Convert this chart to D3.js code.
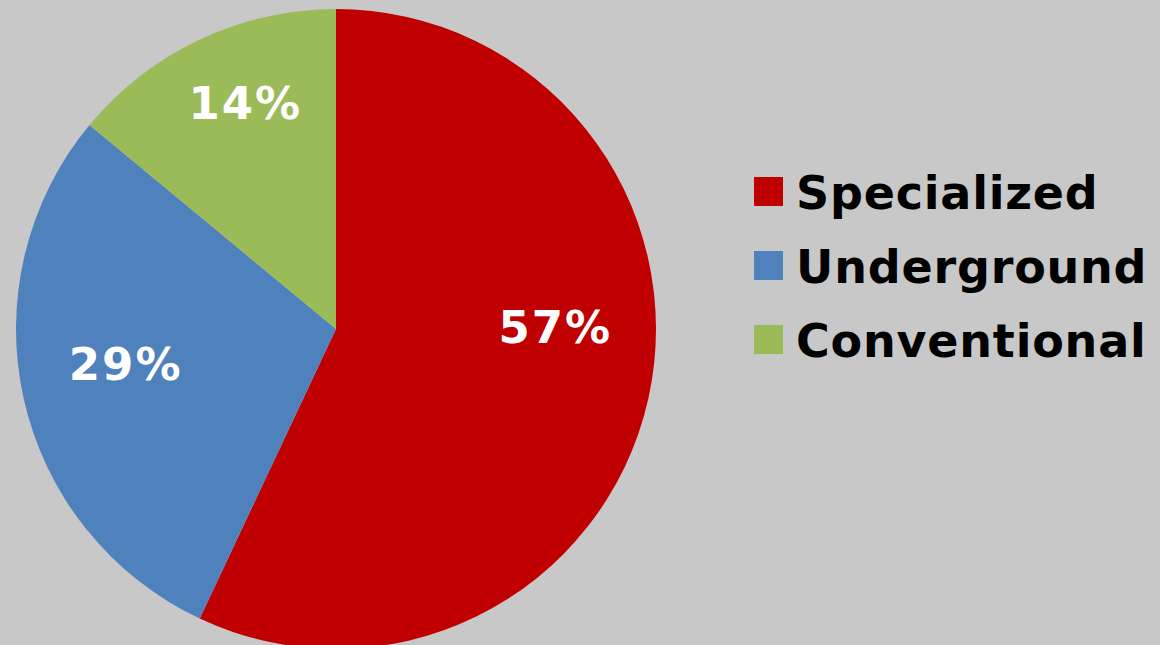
<!DOCTYPE html>
<meta charset="utf-8">
<head>
<style>
body { margin: 0; background: #c8c8c8; }
svg { display: block; }
</style>
<script src="https://d3js.org/d3.v7.min.js"></script>
</head>
<body>
<div id="chart"></div>
<script>
// chart data
var categories = ["Specialized", "Underground", "Conventional"];
var shares = [57, 29, 14];
var colors = ["#c00000", "#4f81bd", "#9bbb59"];

var width = 1160,
    height = 645,
    radius = 320,
    cx = 336,
    cy = 329;

// label placement tweaks (excel "best fit" doesn't sit on the centroid)
var labelRadius = 0.68 * radius;
var labelNudge = [[7, -50], [2, -13], [2, -29]];

var svg = d3.select("#chart").append("svg")
    .attr("width", width)
    .attr("height", height);

var pie = d3.pie().sort(null).value(function(d) { return d; });
var arcs = pie(shares);

var arc = d3.arc().innerRadius(0).outerRadius(radius);
var labelArc = d3.arc().innerRadius(labelRadius).outerRadius(labelRadius);

var g = svg.append("g").attr("transform", "translate(" + cx + "," + cy + ")");

g.selectAll("path")
    .data(arcs)
  .enter().append("path")
    .attr("d", arc)
    .attr("fill", function(d, i) { return colors[i]; });

g.selectAll("text")
    .data(arcs)
  .enter().append("text")
    .attr("transform", function(d, i) {
      var c = labelArc.centroid(d);
      return "translate(" + (c[0] + labelNudge[i][0]) + "," + (c[1] + labelNudge[i][1]) + ")";
    })
    .attr("text-anchor", "middle")
    .attr("dy", "0.36em")
    .style("font-family", "'DejaVu Sans', Verdana, sans-serif")
    .style("font-weight", "bold")
    .style("font-size", "45px")
    .style("letter-spacing", "2px")
    .style("fill", "#fff")
    .text(function(d) { return d.data + "%"; });

// legend
var legend = d3.scalePoint()
    .domain(categories)
    .range([192, 340]);

var items = svg.selectAll(".legend")
    .data(categories)
  .enter().append("g")
    .attr("class", "legend")
    .attr("transform", function(d) { return "translate(754," + legend(d) + ")"; });

items.append("rect")
    .attr("x", 0)
    .attr("y", -15)
    .attr("width", 29)
    .attr("height", 29)
    .attr("fill", function(d, i) { return colors[i]; });

items.append("text")
    .attr("x", 42)
    .attr("dy", "0.36em")
    .style("font-family", "'DejaVu Sans', Verdana, sans-serif")
    .style("font-weight", "bold")
    .style("font-size", "46px")
    .style("letter-spacing", "0.8px")
    .style("fill", "#000")
    .text(function(d) { return d; });
</script>
</body>
